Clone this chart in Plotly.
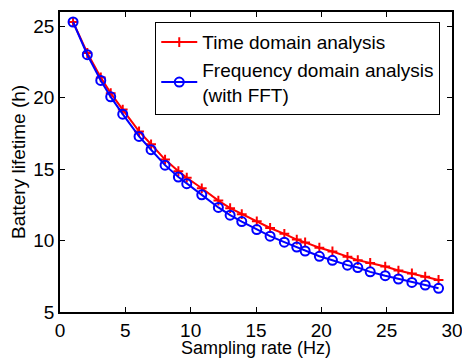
import plotly.graph_objects as go

rate = [1.0, 2.09, 3.12, 3.88, 4.80, 6.05, 6.97, 8.04, 9.06, 9.70, 10.85, 12.12, 13.02,
        13.91, 15.06, 16.08, 17.17, 18.12, 18.76, 19.85, 20.85, 22.00, 22.79, 23.74,
        24.89, 25.90, 26.93, 27.95, 28.97]
time_domain = [25.30, 23.13, 21.42, 20.32, 19.17, 17.64, 16.74, 15.67, 14.86, 14.40, 13.66,
               12.80, 12.27, 11.85, 11.35, 10.88, 10.47, 10.07, 9.87, 9.50, 9.24, 8.86,
               8.63, 8.43, 8.18, 7.90, 7.70, 7.47, 7.24]
freq_domain = [25.30, 23.01, 21.21, 20.06, 18.85, 17.29, 16.36, 15.28, 14.45, 13.98, 13.20,
               12.32, 11.78, 11.33, 10.77, 10.31, 9.89, 9.55, 9.27, 8.90, 8.62, 8.28,
               8.11, 7.81, 7.54, 7.31, 7.07, 6.89, 6.66]
x_ticks = [0, 5, 10, 15, 20, 25, 30]
y_ticks = [5, 10, 15, 20, 25]
x_title = "Sampling rate (Hz)"
y_title = "Battery lifetime (h)"

font_family = "Liberation Sans, Arial, sans-serif"
W, H = 462, 360
ML, MR, MT, MB = 60, 10, 12, 48

fig = go.Figure()
fig.add_trace(go.Scatter(
    x=rate, y=time_domain, mode="lines+markers", name="Time domain analysis",
    line=dict(color="#ff0000", width=2),
    marker=dict(symbol="cross-thin", size=7, line=dict(color="#ff0000", width=2)),
))
fig.add_trace(go.Scatter(
    x=rate, y=freq_domain, mode="lines+markers",
    name="Frequency domain analysis<br>(with FFT)",
    line=dict(color="#0000ff", width=2),
    marker=dict(symbol="circle-open", size=9, color="#0000ff", line=dict(color="#0000ff", width=2)),
))

axis_common = dict(
    showgrid=False, zeroline=False, showline=True, linecolor="black", linewidth=1.5,
    mirror="ticks", ticks="inside", ticklen=5, tickwidth=1, tickcolor="black",
    tickfont=dict(family=font_family, size=19, color="black"), automargin=False,
    ticklabeloverflow="allow",
)

fig.update_layout(
    width=W, height=H,
    margin=dict(l=ML, r=MR, t=MT, b=MB),
    paper_bgcolor="white", plot_bgcolor="white",
    font=dict(family=font_family, size=19, color="black"),
    xaxis=dict(range=[0, 30], tickvals=x_ticks, **axis_common),
    yaxis=dict(range=[5, 26], tickvals=y_ticks, **axis_common),
    legend=dict(x=0.243, y=0.966, xanchor="left", yanchor="top",
                bgcolor="white", bordercolor="black", borderwidth=1,
                font=dict(family=font_family, size=19, color="black"),
                tracegroupgap=0, itemwidth=36),
    showlegend=True,
)

fig.add_annotation(text=x_title, xref="paper", yref="paper", x=0.5,
                   y=-(348 - (H - MB)) / (H - MT - MB), xanchor="center", yanchor="middle",
                   showarrow=False, font=dict(family=font_family, size=18, color="black"))
fig.add_annotation(text=y_title, xref="paper", yref="paper",
                   x=-(ML - 18) / (W - ML - MR), y=0.5, xanchor="center", yanchor="middle",
                   textangle=-90, showarrow=False,
                   font=dict(family=font_family, size=19, color="black"))

fig.write_html("out.html")
